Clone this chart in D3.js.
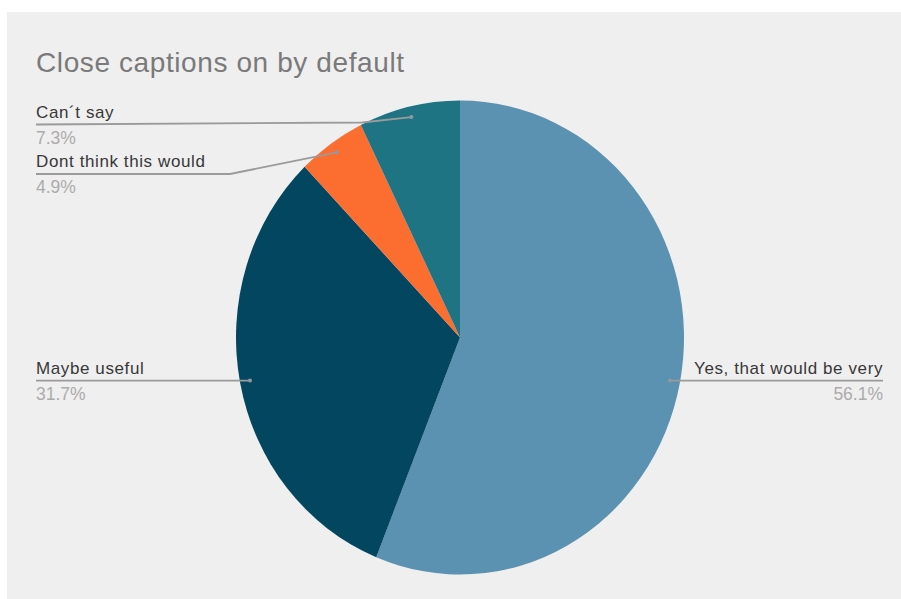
<!DOCTYPE html>
<html>
<head>
<meta charset="utf-8">
<script src="https://cdn.jsdelivr.net/npm/d3@7"></script>
<style>
  html, body { margin: 0; padding: 0; background: #ffffff; }
  svg { display: block; }
</style>
</head>
<body>
<svg id="chart" width="901" height="599"></svg>
<script>
// Survey answers, in drawing order (clockwise from 12 o'clock)
const categories = ["Yes, that would be very", "Maybe useful", "Dont think this would", "Can´t say"];
const values = [56.1, 31.7, 4.9, 7.3];
const sliceColors = ["#5b92b1", "#03465f", "#fb6e30", "#1f7484"];
const chartTitle = "Close captions on by default";

const svg = d3.select("#chart");
const W = 901, H = 599;
const fontFam = "Liberation Sans, Arial, sans-serif";

// panel background
svg.append("rect").attr("x", 7).attr("y", 12).attr("width", W - 7).attr("height", H - 12)
  .attr("fill", "#efefef");

svg.append("text")
  .attr("x", 36).attr("y", 72)
  .attr("font-family", fontFam)
  .attr("font-size", 28)
  .attr("letter-spacing", 0.6)
  .attr("fill", "#7a7a7a")
  .text(chartTitle);

// pie geometry (slightly taller than wide)
const cx = 460, cy = 337.5, r = 224, ky = 237 / 224;

const pie = d3.pie().sort(null).value(d => d.value);
const arcs = pie(categories.map((c, i) => ({ label: c, value: values[i], color: sliceColors[i] })));

const arc = d3.arc().innerRadius(0).outerRadius(r);
const anchorArc = d3.arc().innerRadius(r * 0.955).outerRadius(r * 0.955);

const g = svg.append("g").attr("transform", `translate(${cx},${cy}) scale(1,${ky})`);
g.selectAll("path.slice")
  .data(arcs)
  .enter().append("path")
  .attr("class", "slice")
  .attr("d", arc)
  .attr("fill", d => d.data.color);

// anchor point of each slice's callout in page coordinates
function anchor(d) {
  const [x, y] = anchorArc.centroid(d);
  return [cx + x, cy + y * ky];
}

// callout layout: label side, underline height, leader knee
const callouts = [
  { side: "right", x: 883, lineY: null, knee: null },
  { side: "left", x: 36, lineY: null, knee: null },
  { side: "left", x: 36, lineY: 174, knee: [230, 174] },
  { side: "left", x: 36, lineY: 124.5, knee: [362, 122.5] }
];

const lineColor = "#9a9a9a";

arcs.forEach((d, i) => {
  const c = callouts[i];
  const [ax, ay] = anchor(d);
  const lineY = c.lineY !== null ? c.lineY : ay;
  let pts;
  if (c.side === "right") {
    pts = [[ax, ay], [c.x, lineY]];
  } else if (c.knee) {
    pts = [[c.x, lineY], c.knee, [ax, ay]];
  } else {
    pts = [[c.x, lineY], [ax, ay]];
  }
  svg.append("path")
    .attr("d", d3.line()(pts))
    .attr("fill", "none")
    .attr("stroke", lineColor)
    .attr("stroke-width", 1.8);

  svg.append("circle")
    .attr("cx", ax).attr("cy", ay).attr("r", 2)
    .attr("fill", "#8f9aa0");

  const anchorPos = c.side === "right" ? "end" : "start";
  svg.append("text")
    .attr("x", c.x).attr("y", lineY - 7)
    .attr("text-anchor", anchorPos)
    .attr("font-family", fontFam)
    .attr("font-size", 17)
    .attr("letter-spacing", 0.6)
    .attr("fill", "#383838")
    .text(d.data.label);

  svg.append("text")
    .attr("x", c.x).attr("y", lineY + 19)
    .attr("text-anchor", anchorPos)
    .attr("font-family", fontFam)
    .attr("font-size", 17.5)
    .attr("fill", "#ababab")
    .text(d3.format(".1f")(d.data.value) + "%");
});
</script>
</body>
</html>
